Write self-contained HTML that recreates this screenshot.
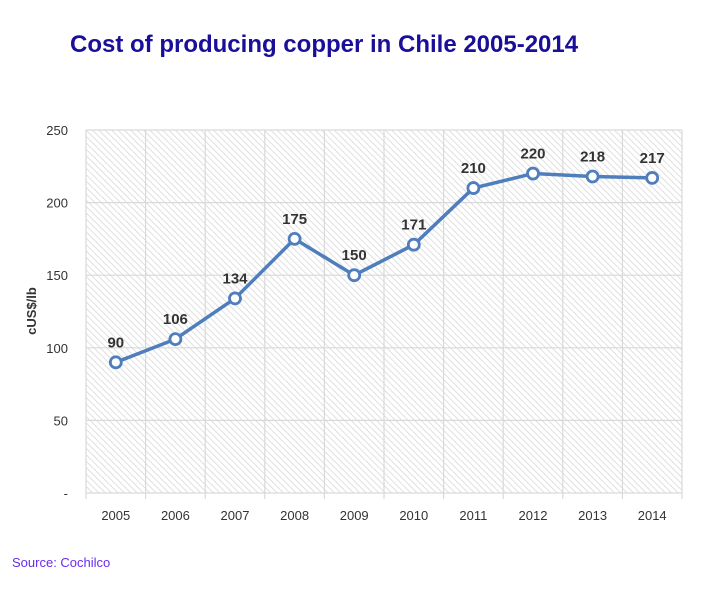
<!DOCTYPE html>
<html><head><meta charset="utf-8"><style>
body{margin:0;background:#fff;width:706px;height:608px;overflow:hidden;font-family:"Liberation Sans",sans-serif}
</style></head><body>
<svg width="706" height="608">
<defs><pattern id="h" width="4.5" height="4.5" patternUnits="userSpaceOnUse" patternTransform="rotate(-45)">
<rect width="5" height="5" fill="#fff"/><line x1="0" y1="0" x2="0" y2="5" stroke="#d6d6d6" stroke-width="1.5"/></pattern></defs>
<text x="70" y="52" font-size="24" font-weight="bold" fill="#1a0f99">Cost of producing copper in Chile 2005-2014</text>
<rect x="86" y="130" width="596" height="363" fill="url(#h)"/>
<g id="grid"></g><g id="axes"></g><g id="series"></g>
<text transform="translate(36,311) rotate(-90)" text-anchor="middle" font-size="13" font-weight="bold" fill="#333">cUS$/lb</text>
<text x="12" y="567" font-size="13" fill="#6a2cf0">Source: Cochilco</text>
</svg>
<script>
const categories=["2005","2006","2007","2008","2009","2010","2011","2012","2013","2014"];
const values=[90,106,134,175,150,171,210,220,218,217];
const yTicks=[0,50,100,150,200,250];
const yTickLabels=["-","50","100","150","200","250"];
const L=86,R=682,T=130,B=493,ymax=250;
const bw=(R-L)/categories.length;
const x=i=>L+bw*(i+0.5);
const y=v=>B-(v/ymax)*(B-T);
const ns="http://www.w3.org/2000/svg";
function mk(p,t,a){const e=document.createElementNS(ns,t);for(const k in a)e.setAttribute(k,a[k]);p.appendChild(e);return e;}
const g=document.getElementById('grid'),ax=document.getElementById('axes'),s=document.getElementById('series');
yTicks.forEach((t,i)=>{
 const l=mk(g,'line',{x1:L,x2:R,y1:y(t),y2:y(t),stroke:'#d9d9d9','stroke-width':1.2});
 
 
 const tx=mk(ax,'text',{x:68,y:y(t)+5,'text-anchor':'end','font-size':13,fill:'#333'});
 tx.textContent=yTickLabels[i];
 
 
});
for(let i=0;i<=categories.length;i++){
 const xx=L+bw*i;
 const l=mk(g,'line',{x1:xx,x2:xx,y1:T,y2:B+6,stroke:'#d9d9d9','stroke-width':1.2});
 
 
}
categories.forEach((c,i)=>{
 const tx=mk(ax,'text',{x:x(i),y:520,'text-anchor':'middle','font-size':13,fill:'#333'});
 tx.textContent=c;
 
 
});
const pl=mk(s,'polyline',{points:values.map((v,i)=>x(i)+','+y(v)).join(' '),fill:'none',stroke:'#4f7ebd','stroke-width':3.5,'stroke-linejoin':'round'});


values.forEach((v,i)=>{
 const c=mk(s,'circle',{cx:x(i),cy:y(v),r:5.5,fill:'#fff',stroke:'#4f7ebd','stroke-width':2.8});
 
 
 const t=mk(s,'text',{x:x(i),y:y(v)-15,'text-anchor':'middle','font-size':15,'font-weight':'bold',fill:'#333'});
 t.textContent=v;
 
 
});
</script>
</body></html>
